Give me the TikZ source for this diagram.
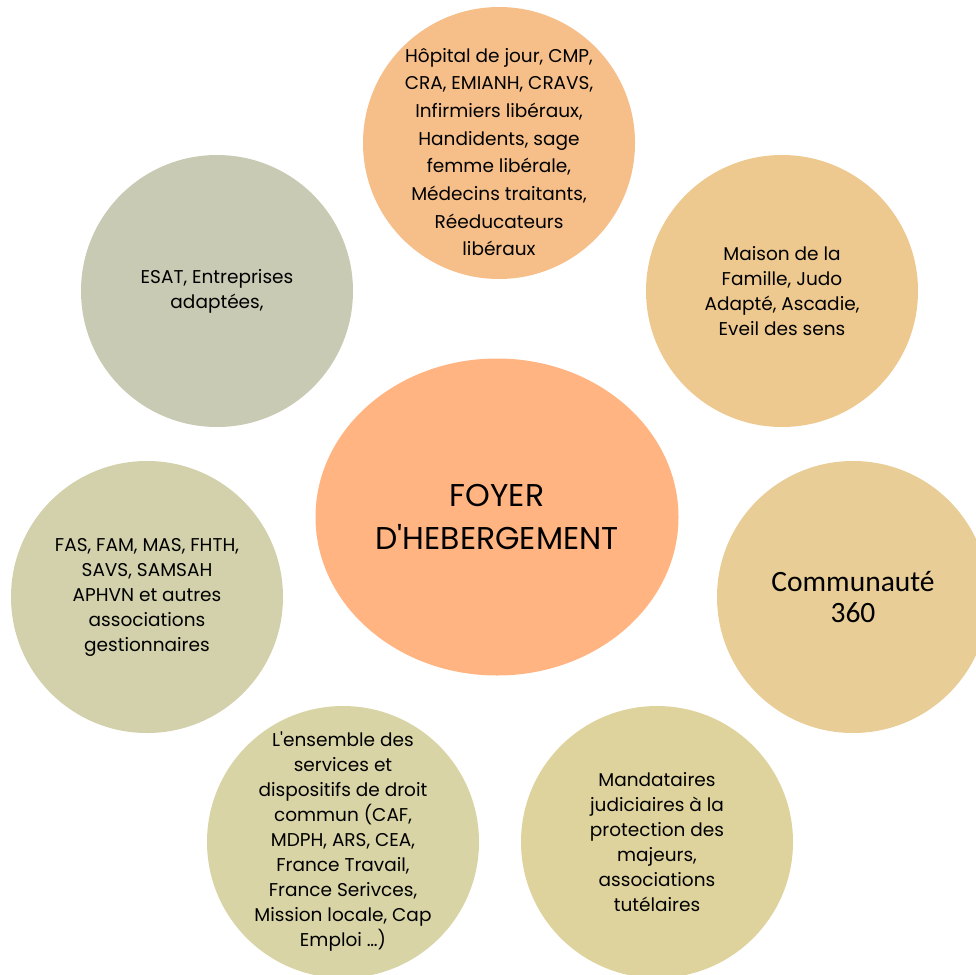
\documentclass[tikz,border=0pt]{standalone}
\usepackage{fontspec}
\setmainfont{Poppins}[Ligatures=TeXOff]
\newfontfamily\calfont{Carlito}
\usepackage{tikz}
\usetikzlibrary{shapes.geometric}
\definecolor{foyer}{HTML}{FFB482}
\definecolor{soins}{HTML}{F6BF8A}
\definecolor{loisirs}{HTML}{EEC98F}
\definecolor{commu}{HTML}{E8CD96}
\definecolor{mandat}{HTML}{DFD39D}
\definecolor{droit}{HTML}{D8D4A6}
\definecolor{medsoc}{HTML}{D2D1AB}
\definecolor{travail}{HTML}{C8CAB3}
\tikzset{bulle/.style={circle, draw=none, fill=#1, minimum size=272pt, inner sep=0pt},
         texte/.style={inner sep=0pt, align=center, font=\fontsize{18.5}{25}\selectfont}}

\begin{document}
\begin{tikzpicture}[x=1pt, y=-1pt]
                 \useasboundingbox (0,0) rectangle (976,974);

                 \node[ellipse, fill=foyer, minimum width=363pt, minimum height=317pt, inner sep=0pt, align=center, font=\fontsize{31.5}{43}\selectfont] (foyer) at (497,517) {FOYER\\D'HEBERGEMENT};

                 \node[bulle=soins] (soins) at (499,143) {};
                 \node[bulle=loisirs] (loisirs) at (782,291) {};
                 \node[bulle=commu] (commu) at (853,597) {};
                 \node[bulle=mandat] (mandat) at (657,842) {};
                 \node[bulle=droit] (droit) at (343,842) {};
                 \node[bulle=medsoc] (medsoc) at (147,597) {};
                 \node[bulle=travail] (travail) at (217,291) {};

                 \node[texte, yshift=-9pt, font=\fontsize{18.5}{27.7}\selectfont] (soinstxt) at (soins) {Hôpital de jour, CMP,\\CRA, EMIANH, CRAVS,\\Infirmiers libéraux,\\Handidents, sage\\femme libérale,\\Médecins traitants,\\Réeducateurs\\libéraux};
                 \node[texte] (loisirstxt) at (loisirs) {Maison de la\\Famille, Judo\\Adapté, Ascadie,\\Eveil des sens};
                 \node[texte, font=\calfont\fontsize{29.5}{31}\selectfont] (commutxt) at (commu) {Communauté\\360};
                 \node[texte] (mandattxt) at (mandat) {Mandataires\\judiciaires à la\\protection des\\majeurs,\\associations\\tutélaires};
                 \node[texte] (droittxt) at (droit) {L'ensemble des\\services et\\dispositifs de droit\\commun (CAF,\\MDPH, ARS, CEA,\\France Travail,\\France Serivces,\\Mission locale, Cap\\Emploi …)};
                 \node[texte] (medsoctxt) at (medsoc) {FAS, FAM, MAS, FHTH,\\SAVS, SAMSAH\\APHVN et autres\\associations\\gestionnaires};
                 \node[texte] (travailtxt) at (travail) {ESAT, Entreprises\\adaptées,};

\end{tikzpicture}
\end{document}
